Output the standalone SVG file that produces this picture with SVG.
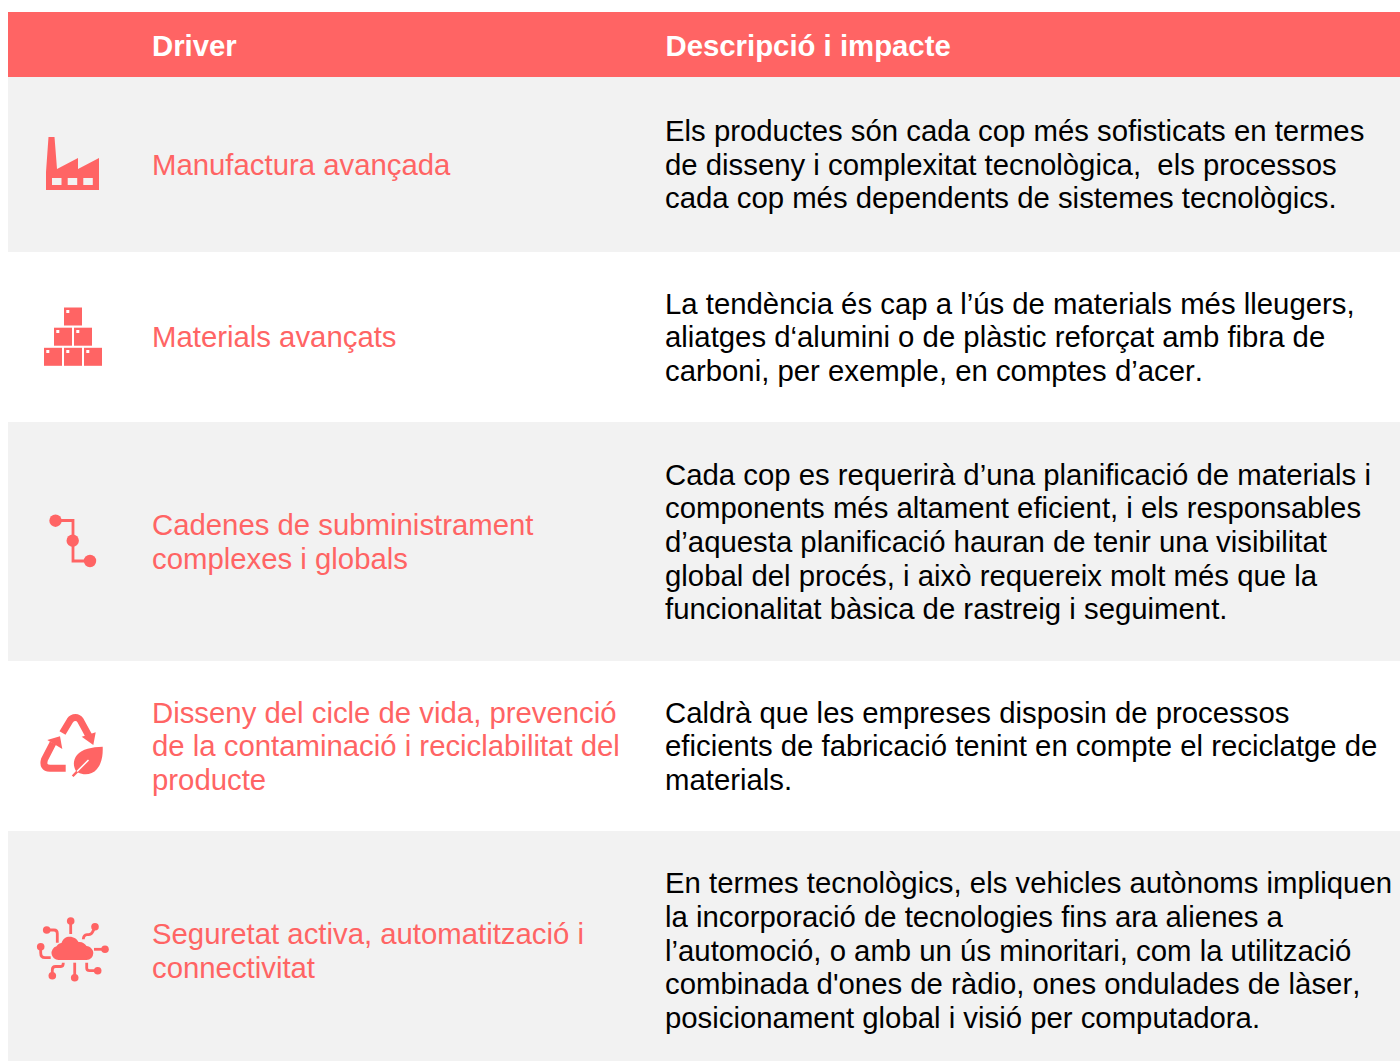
<svg xmlns="http://www.w3.org/2000/svg" width="1400" height="1061" viewBox="0 0 1400 1061">
<style>
text{font-family:"Liberation Sans",Arial,sans-serif;font-size:29.33px;font-kerning:none;white-space:pre}
.h{font-weight:bold;fill:#fff}
.d{fill:#ff6464}
.b{fill:#000}
.i{fill:#ff6464}
.l{fill:none;stroke:#ff6464;stroke-width:2.8}
.r{fill:none;stroke:#ff6464;stroke-width:7}
.s{fill:#ff6464}
.w{fill:#fff}
</style>
<rect width="1400" height="1061" fill="#fff"/>
<g id="header"><rect x="8" y="12" width="1392" height="65" fill="#ff6464"/>
<text class="h" x="152" y="56">Driver</text><text class="h" x="665.500" y="56">Descripció i impacte</text></g>
<g id="row1"><rect x="8" y="77" width="1392" height="175" fill="#f2f2f2"/>
<g id="icon1"><path class="i" d="M46 190V172L48.500 137H54.500L57 169L78 158V169L99 158V190Z"/><rect x="52" y="178" width="9.500" height="7" fill="#f2f2f2"/><rect x="67.700" y="178" width="9.500" height="7" fill="#f2f2f2"/><rect x="83.300" y="178" width="9.500" height="7" fill="#f2f2f2"/></g>
<text class="d" x="152" y="175">Manufactura avançada</text>
<text class="b" x="665" y="141">Els productes són cada cop més sofisticats en termes</text>
<text class="b" x="665" y="175">de disseny i complexitat tecnològica,  els processos</text>
<text class="b" x="665" y="208">cada cop més dependents de sistemes tecnològics.</text></g>
<g id="row2">
<g id="icon2"><rect class="s" x="64" y="307.500" width="18" height="18"/><rect class="s" x="54" y="327.700" width="18" height="18"/><rect class="s" x="74" y="327.700" width="18" height="18"/><rect class="s" x="44" y="347.800" width="18" height="18"/><rect class="s" x="64" y="347.800" width="18" height="18"/><rect class="s" x="84" y="347.800" width="18" height="18"/>
<rect class="w" x="66.300" y="310" width="3" height="3"/><rect class="w" x="56.300" y="330" width="3" height="3"/><rect class="w" x="76.300" y="330" width="3" height="3"/><rect class="w" x="46.300" y="350" width="3" height="3"/><rect class="w" x="66.300" y="350" width="3" height="3"/><rect class="w" x="86.300" y="350" width="3" height="3"/></g>
<text class="d" x="152" y="347">Materials avançats</text>
<text class="b" x="665" y="314">La tendència és cap a l’ús de materials més lleugers,</text>
<text class="b" x="665" y="347">aliatges d‘alumini o de plàstic reforçat amb fibra de</text>
<text class="b" x="665" y="381">carboni, per exemple, en comptes d’acer.</text></g>
<g id="row3"><rect x="8" y="422" width="1392" height="239" fill="#f2f2f2"/>
<g id="icon3"><path class="l" d="M55.500 520.500H73V561H90"/><circle class="s" cx="55.500" cy="520.700" r="6.200"/><circle class="s" cx="72.700" cy="540.700" r="6.200"/><circle class="s" cx="90" cy="561" r="6.200"/></g>
<text class="d" x="152" y="535">Cadenes de subministrament</text>
<text class="d" x="152" y="569">complexes i globals</text>
<text class="b" x="665" y="485">Cada cop es requerirà d’una planificació de materials i</text>
<text class="b" x="665" y="518">components més altament eficient, i els responsables</text>
<text class="b" x="665" y="552">d’aquesta planificació hauran de tenir una visibilitat</text>
<text class="b" x="665" y="586">global del procés, i això requereix molt més que la</text>
<text class="b" x="665" y="619">funcionalitat bàsica de rastreig i seguiment.</text></g>
<g id="row4">
<g id="icon4"><path class="r" d="M62.500 733L70 720.500Q72 717.500 75.500 717.500Q78.500 717.500 80.500 720.500L90 738"/><path class="s" d="M81.700 736.700L95.700 732.300L93.300 745Z"/><path class="r" d="M53 743L44.500 759.500Q42 768 50 768.300H65.700"/><path class="s" d="M47.300 740L60 736.300L62.300 749Z"/><path class="s" d="M102.700 746.700C92 747 82 749 77 755C73 760 73 766 76 771L71.800 775.500L73.500 777L78 772.500C84 775.500 92 775 97 769C102 763 103 755 102.700 746.700Z"/><path d="M88.500 760L77 771.500" fill="none" stroke="#fff" stroke-width="1.500"/></g>
<text class="d" x="152" y="723">Disseny del cicle de vida, prevenció</text>
<text class="d" x="152" y="756">de la contaminació i reciclabilitat del</text>
<text class="d" x="152" y="790">producte</text>
<text class="b" x="665" y="723">Caldrà que les empreses disposin de processos</text>
<text class="b" x="665" y="756">eficients de fabricació tenint en compte el reciclatge de</text>
<text class="b" x="665" y="790">materials.</text></g>
<g id="row5"><rect x="8" y="831" width="1392" height="230" fill="#f2f2f2"/>
<g id="icon5"><path class="s" d="M58.500 960A7 7 0 0 1 56.500 946.300C58 944 60 943 61.500 943C63 938.500 66 936.700 69.500 936.700C74 936.700 77 939 78.500 942C82 941.500 85 943.500 86.500 946C90.500 946.500 93.300 949.500 93.300 953A7 7 0 0 1 86.500 960Z"/>
<g class="l"><path d="M70.700 921V934"/><path d="M95 927L92.500 932Q91.500 934.500 88.500 934.700H87Q83.500 935 83.300 939.300"/><path d="M46.700 930H54Q57.300 930 57.300 933.500V942.700"/><path d="M40.700 947V952.700Q40.700 957.700 45 957.700H50.700"/><path d="M94 949.300H105"/><path d="M52.300 975.700V970Q52.300 966.500 55.500 966.500H61Q63.300 966.500 63.300 962.700"/><path d="M74.700 962.700V977.700"/><path d="M86.700 962.700V968Q86.700 970.700 89.500 970.700H97.700"/></g>
<circle class="s" cx="70.700" cy="921" r="3.800"/><circle class="s" cx="95" cy="926.700" r="3.800"/><circle class="s" cx="46.700" cy="930" r="3.800"/><circle class="s" cx="40.700" cy="946.700" r="3.800"/><circle class="s" cx="105" cy="949.300" r="3.800"/><circle class="s" cx="52.300" cy="975.700" r="3.800"/><circle class="s" cx="74.700" cy="977.700" r="3.800"/><circle class="s" cx="97.700" cy="970.700" r="3.800"/></g>
<text class="d" x="152" y="944">Seguretat activa, automatització i</text>
<text class="d" x="152" y="978">connectivitat</text>
<text class="b" x="665" y="893">En termes tecnològics, els vehicles autònoms impliquen</text>
<text class="b" x="665" y="927">la incorporació de tecnologies fins ara alienes a</text>
<text class="b" x="665" y="961">l’automoció, o amb un ús minoritari, com la utilització</text>
<text class="b" x="665" y="994">combinada d'ones de ràdio, ones ondulades de làser,</text>
<text class="b" x="665" y="1028">posicionament global i visió per computadora.</text></g>
</svg>
